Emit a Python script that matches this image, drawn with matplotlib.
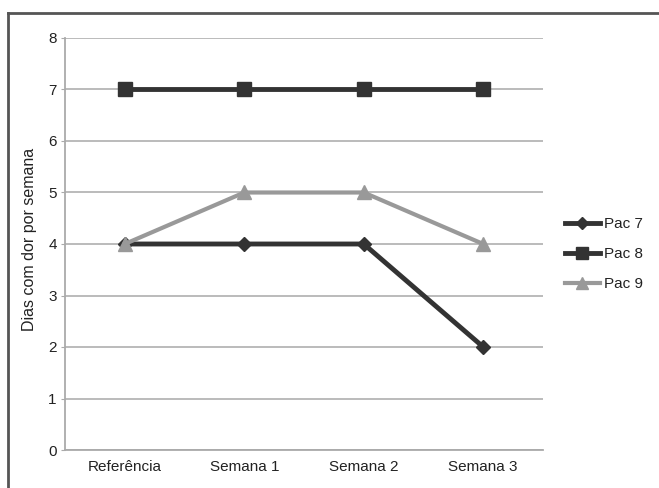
import matplotlib
matplotlib.use("Agg")
import matplotlib.pyplot as plt
from matplotlib.lines import Line2D

plt.rcParams['font.family'] = ['Liberation Sans', 'DejaVu Sans']

categories = ["Referência", "Semana 1", "Semana 2", "Semana 3"]
pac7 = [4, 4, 4, 2]
pac8 = [7, 7, 7, 7]
pac9 = [4, 5, 5, 4]
yticks = [0, 1, 2, 3, 4, 5, 6, 7, 8]

fig = plt.figure(figsize=(6.59, 4.88), dpi=100)
ax = fig.add_axes([65/659, 1-450/488, (543-65)/659, (450-38)/488])

x = list(range(len(categories)))
dark = "#333333"
light = "#999999"

ax.plot(x, pac7, color=dark, lw=3.5, marker="D", ms=7, mfc=dark, mec=dark,
        label="Pac 7", zorder=3)
ax.plot(x, pac8, color=dark, lw=3.5, marker="s", ms=9.5, mfc=dark, mec=dark,
        label="Pac 8", zorder=3)
ax.plot(x, pac9, color=light, lw=3, marker="^", ms=10, mfc=light, mec=light,
        label="Pac 9", zorder=4)

ax.set_xlim(-0.5, len(categories) - 0.5)
ax.set_ylim(0, 8)
ax.set_yticks(yticks)
ax.set_xticks(x)
ax.set_xticklabels(categories)
ax.tick_params(axis="x", length=0, pad=7, labelsize=11, colors="#222222")
ax.tick_params(axis="y", length=3, color="#aaaaaa", pad=3, labelsize=11,
               colors="#222222")
ax.tick_params(axis="y", labelcolor="#222222")
ax.yaxis.grid(True, color="#b5b5b5", lw=1.3)
ax.set_axisbelow(True)
for s in ["top", "right"]:
    ax.spines[s].set_visible(False)
for s in ["left", "bottom"]:
    ax.spines[s].set_color("#aaaaaa")
    ax.spines[s].set_linewidth(1.3)

ax.set_ylabel("Dias com dor por semana", fontsize=11.5, color="#222222")
ax.yaxis.set_label_coords(-0.058, 0.51)

leg = ax.legend(loc="center left", bbox_to_anchor=(1.033, (450-254)/412),
                frameon=False, fontsize=11, handlelength=2.3,
                labelspacing=1.05, handletextpad=0.28, borderpad=0.4,
                borderaxespad=0, markerscale=0.85)
for t in leg.get_texts():
    t.set_color("#222222")

# Frame lines on the left and top edges of the figure
fig.add_artist(Line2D([8/659, 8/659], [0, 1-13/488], color="#555555", lw=2,
                      transform=fig.transFigure))
fig.add_artist(Line2D([8/659, 1], [1-13/488, 1-13/488], color="#555555", lw=2,
                      transform=fig.transFigure))

fig.savefig("out.png", dpi=100)
